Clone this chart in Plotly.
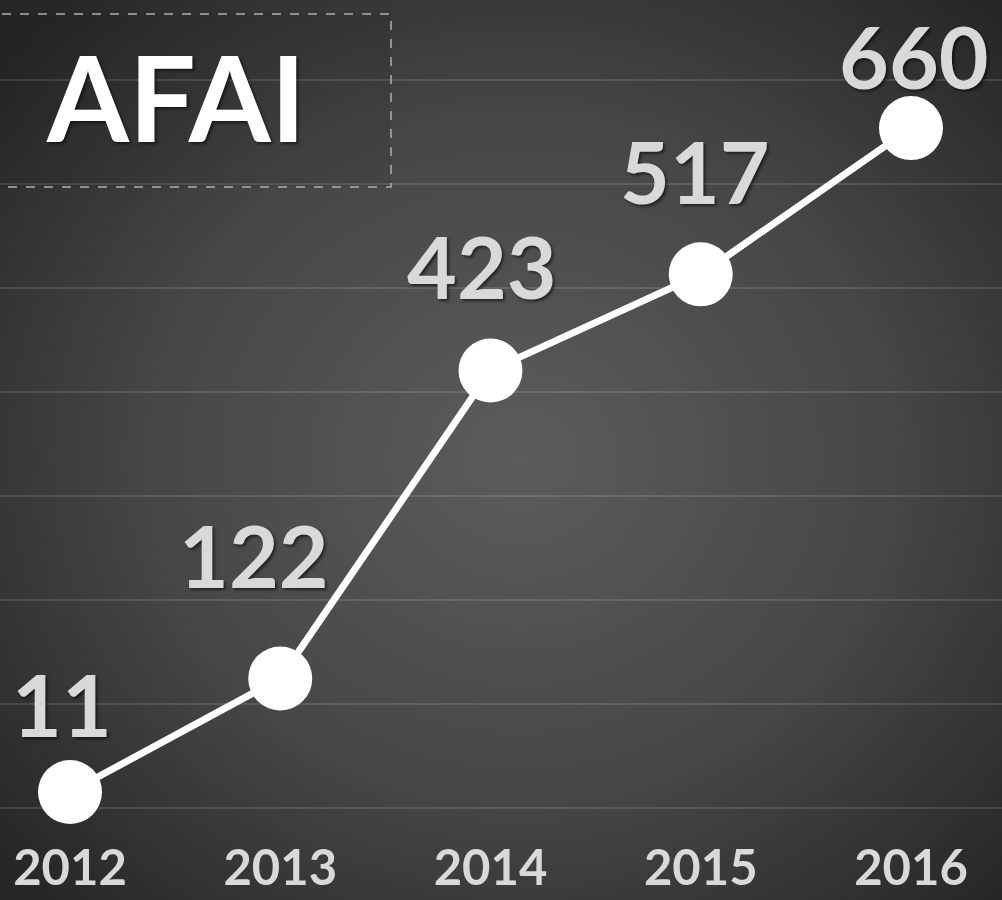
import base64
import plotly.graph_objects as go

# ---- data ----
years = ["2012", "2013", "2014", "2015", "2016"]
values = [11, 122, 423, 517, 660]
labels = ["11", "122", "423", "517", "660"]
title_text = "AFAI"

# ---- style: label nudges (px) ----
label_dx = [-8, -26, -8, -6, 3]
label_dy = [89, 124, 105, 104, 73]

W, H = 1002, 900
MB = 70
PH = H - MB

svg = f'''<svg xmlns="http://www.w3.org/2000/svg" width="{W}" height="{H}" viewBox="0 0 {W} {H}" preserveAspectRatio="none">
<defs><radialGradient id="g" cx="52%" cy="50%" r="68%">
<stop offset="0%" stop-color="#5c5c5c"/>
<stop offset="55%" stop-color="#464646"/>
<stop offset="100%" stop-color="#262626"/>
</radialGradient></defs>
<rect width="{W}" height="{H}" fill="url(#g)"/></svg>'''
bg_src = "data:image/svg+xml;base64," + base64.b64encode(svg.encode()).decode()

fig = go.Figure()
fig.add_trace(go.Scatter(
    x=years, y=values, mode="lines+markers",
    line=dict(color="white", width=7),
    marker=dict(size=64, color="white", line=dict(width=0)),
    hoverinfo="skip", showlegend=False,
))

shadow = "2px 2px 3px rgba(0,0,0,0.55)"
for i, (v, lab) in enumerate(zip(values, labels)):
    fig.add_annotation(
        x=i, y=v, text=lab, showarrow=False,
        xanchor="center", yanchor="middle",
        xshift=label_dx[i], yshift=label_dy[i],
        font=dict(family="Lato", size=86, color="#d9d9d9", weight="bold", shadow=shadow),
    )

fig.add_annotation(
    xref="paper", yref="paper", x=176 / W, y=1 - 97 / PH, text=title_text,
    showarrow=False, xanchor="center", yanchor="middle",
    font=dict(family="Lato", size=118, color="white", weight="bold", shadow=shadow),
)

fig.add_shape(
    type="rect", xref="paper", yref="paper",
    x0=-0.01, x1=391 / W, y0=1 - 187 / PH, y1=1 - 14 / PH,
    line=dict(color="#b0b0b0", width=1.5, dash="dash"),
    fillcolor="rgba(0,0,0,0.06)", layer="above",
)

fig.add_layout_image(
    source=bg_src, xref="paper", yref="paper", x=0, y=1,
    sizex=1, sizey=H / PH + 0.02, sizing="stretch", layer="below",
    xanchor="left", yanchor="top",
)

k = 1.023  # px per unit
y_top = 11 + 792 / k
y_bot = 11 - (PH - 792) / k

fig.update_layout(
    width=W, height=H,
    margin=dict(l=0, r=0, t=0, b=MB),
    paper_bgcolor="#2a2a2a",
    plot_bgcolor="rgba(0,0,0,0)",
    xaxis=dict(
        type="category", range=[-0.333, 4.433],
        showgrid=False, zeroline=False, showline=False, ticks="",
        ticklabelstandoff=5, automargin=False,
        tickfont=dict(family="Lato", size=49, color="#d9d9d9", weight="bold"),
        fixedrange=True,
    ),
    yaxis=dict(
        range=[y_bot, y_top], tick0=11 - 16 / k, dtick=104 / k,
        showgrid=True, gridcolor="rgba(255,255,255,0.12)", gridwidth=2,
        zeroline=False, showticklabels=False, ticks="", showline=False,
        automargin=False, fixedrange=True,
    ),
)

fig.write_html(
    "out.html",
    config={"displayModeBar": False},
    post_script="document.body.style.margin='0';document.body.style.overflow='hidden';",
)
